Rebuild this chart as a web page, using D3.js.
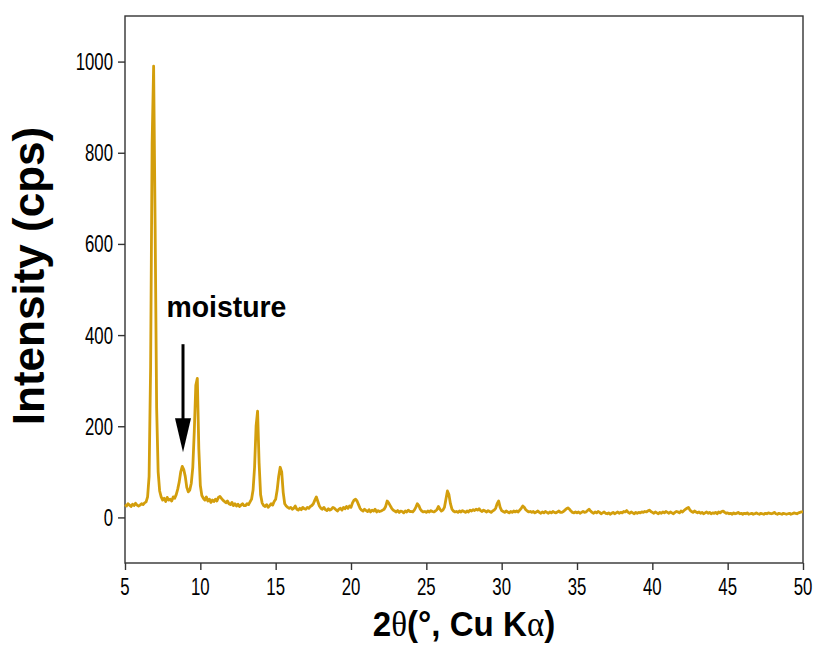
<!DOCTYPE html>
<html><head><meta charset="utf-8">
<script src="https://cdn.jsdelivr.net/npm/d3@7"></script>
<style>body{margin:0;background:#fff}svg{display:block}text{font-family:Arial,"Liberation Sans",sans-serif;fill:#000}</style>
</head><body>
<svg id="c" width="819" height="647"></svg>
<script>
// 2-theta grid start/step and intensities (cps)
const xStart = 5, xStep = 0.1;
const intensity = [
 28,25,30,27,24,29,26,31,27,25,
 27,30,28,32,34,45,90,330,820,990,
 640,240,100,58,45,38,42,35,44,38,
 40,36,45,42,50,62,78,100,112,105,
 90,66,56,60,75,110,190,290,305,150,
 70,48,42,38,45,36,40,33,38,35,
 40,36,44,46,42,38,35,32,36,30,
 28,33,26,30,25,29,24,27,30,26,
 26,30,28,34,40,60,110,200,233,120,
 50,32,26,24,28,22,26,30,27,35,
 40,60,90,110,100,55,30,25,22,20,
 22,18,20,25,18,16,20,17,22,19,
 18,22,20,24,26,30,38,45,35,25,
 20,18,22,17,15,19,16,18,22,20,
 17,14,18,20,16,22,19,24,20,25,
 22,32,38,40,36,28,20,16,14,18,
 15,13,17,12,16,14,18,12,15,13,
 14,16,18,24,36,32,26,20,16,14,
 12,15,11,14,13,10,14,12,16,13,
 13,12,16,22,30,26,18,14,12,13,
 11,14,12,15,13,12,14,17,24,18,
 14,16,22,40,58,50,30,18,14,12,
 13,11,14,12,15,13,11,14,12,16,
 14,17,15,18,16,19,15,13,16,14,
 12,15,13,11,14,16,20,30,36,22,
 15,13,11,14,12,10,13,11,14,12,
 14,12,16,20,25,22,17,14,12,13,
 11,13,10,12,14,11,9,12,10,13,
 11,9,12,10,13,11,10,12,14,11,
 11,13,16,19,21,18,14,11,10,12,
 10,12,9,11,13,11,12,15,18,14,
 11,9,12,10,13,11,8,10,12,9,
 8,10,7,9,11,8,10,12,9,11,
 10,13,12,15,11,9,12,10,8,11,
 9,11,10,12,11,13,12,14,16,13,
 11,9,12,10,8,11,9,12,10,13,
 11,9,12,10,8,11,13,12,10,14,
 12,15,18,20,22,16,13,11,14,12,
 10,12,9,11,8,10,12,9,11,8,
 10,9,11,8,12,10,13,14,11,9,
 10,8,9,7,10,8,9,11,8,9,
 7,9,8,10,7,8,9,7,8,10,
 8,7,9,8,7,9,8,10,9,8,
 9,11,8,7,9,8,7,9,8,7,
 8,9,7,8,10,9,8,10,11,12,
 12
];
const xTicks = [5,10,15,20,25,30,35,40,45,50];
const yTicks = [0,200,400,600,800,1000];
const xDomain = [5,50], yDomain = [-100,1100];
const annotation = {text:"moisture", textX:7.75, textY:440, arrowX:8.85, arrowTop:380, arrowTip:143};

const svg = d3.select("#c");
const m = {l:125, r:803, t:16, b:563};
const x = d3.scaleLinear().domain(xDomain).range([m.l, m.r]);
const y = d3.scaleLinear().domain(yDomain).range([m.b, m.t]);
const data = intensity.map((v,i)=>({x: xStart + i*xStep, y: v}));
const SX = 0.7; // horizontal squeeze of tick text

// frame
svg.append("rect").attr("x",m.l).attr("y",m.t).attr("width",m.r-m.l).attr("height",m.b-m.t)
  .attr("fill","none").attr("stroke","#333").attr("stroke-width",1.4);

// line
svg.append("path").datum(data)
  .attr("d", d3.line().x(d=>x(d.x)).y(d=>y(d.y)))
  .attr("fill","none").attr("stroke","#D39E0C").attr("stroke-width",2.8).attr("stroke-linejoin","round");

// x axis
const gx = svg.append("g").attr("transform",`translate(0,${m.b})`);
gx.call(d3.axisBottom(x).tickValues(d3.range(5,50.01,2.5)).tickSize(4).tickFormat(""))
  .call(g=>g.select(".domain").remove());
gx.call(d3.axisBottom(x).tickValues(xTicks).tickSize(7).tickFormat(""))
  .call(g=>g.select(".domain").remove());
gx.selectAll("line").attr("stroke","#333").attr("stroke-width",1.4);
xTicks.forEach(t=>{
  gx.append("text").attr("transform",`translate(${x(t)},32) scale(${SX},1)`)
    .attr("text-anchor","middle").attr("font-size",24).attr("fill","#111").text(t);
});

// y axis
const gy = svg.append("g").attr("transform",`translate(${m.l},0)`);
gy.call(d3.axisLeft(y).tickValues(d3.range(-100,1100,100)).tickSize(4).tickFormat(""))
  .call(g=>g.select(".domain").remove());
gy.call(d3.axisLeft(y).tickValues(yTicks).tickSize(7).tickFormat(""))
  .call(g=>g.select(".domain").remove());
gy.selectAll("line").attr("stroke","#333").attr("stroke-width",1.4);
yTicks.forEach(t=>{
  gy.append("text").attr("transform",`translate(-12,${y(t)+8.5}) scale(${SX},1)`)
    .attr("text-anchor","end").attr("font-size",24).attr("fill","#111").text(t);
});

// axis titles
const xt = svg.append("text").attr("transform",`translate(${(m.l+m.r)/2},636) scale(0.92,1)`)
  .attr("text-anchor","middle").attr("font-size",36).attr("font-weight","bold");
xt.append("tspan").text("2");
xt.append("tspan").attr("font-family","'Liberation Serif','DejaVu Serif',serif").attr("font-weight","normal").text("θ");
xt.append("tspan").text("(°, Cu K");
xt.append("tspan").attr("font-family","'Liberation Serif','DejaVu Serif',serif").attr("font-weight","normal").text("α");
xt.append("tspan").text(")");
svg.append("text").attr("transform",`translate(44,276) scale(1,1) rotate(-90)`)
  .attr("text-anchor","middle").attr("font-size",44).attr("font-weight","bold")
  .text("Intensity (cps)");

// annotation
svg.append("text").attr("transform",`translate(${x(annotation.textX)},${y(annotation.textY)}) scale(0.98,1)`)
  .attr("font-size",29).attr("font-weight","bold").text(annotation.text);
const ax = x(annotation.arrowX), aTop = y(annotation.arrowTop), aTip = y(annotation.arrowTip);
svg.append("line").attr("x1",ax).attr("x2",ax).attr("y1",aTop).attr("y2",aTip-30)
  .attr("stroke","#000").attr("stroke-width",3);
svg.append("path").attr("d",`M${ax-8},${aTip-34}L${ax+8},${aTip-34}L${ax},${aTip}Z`).attr("fill","#000");
</script>
</body></html>
